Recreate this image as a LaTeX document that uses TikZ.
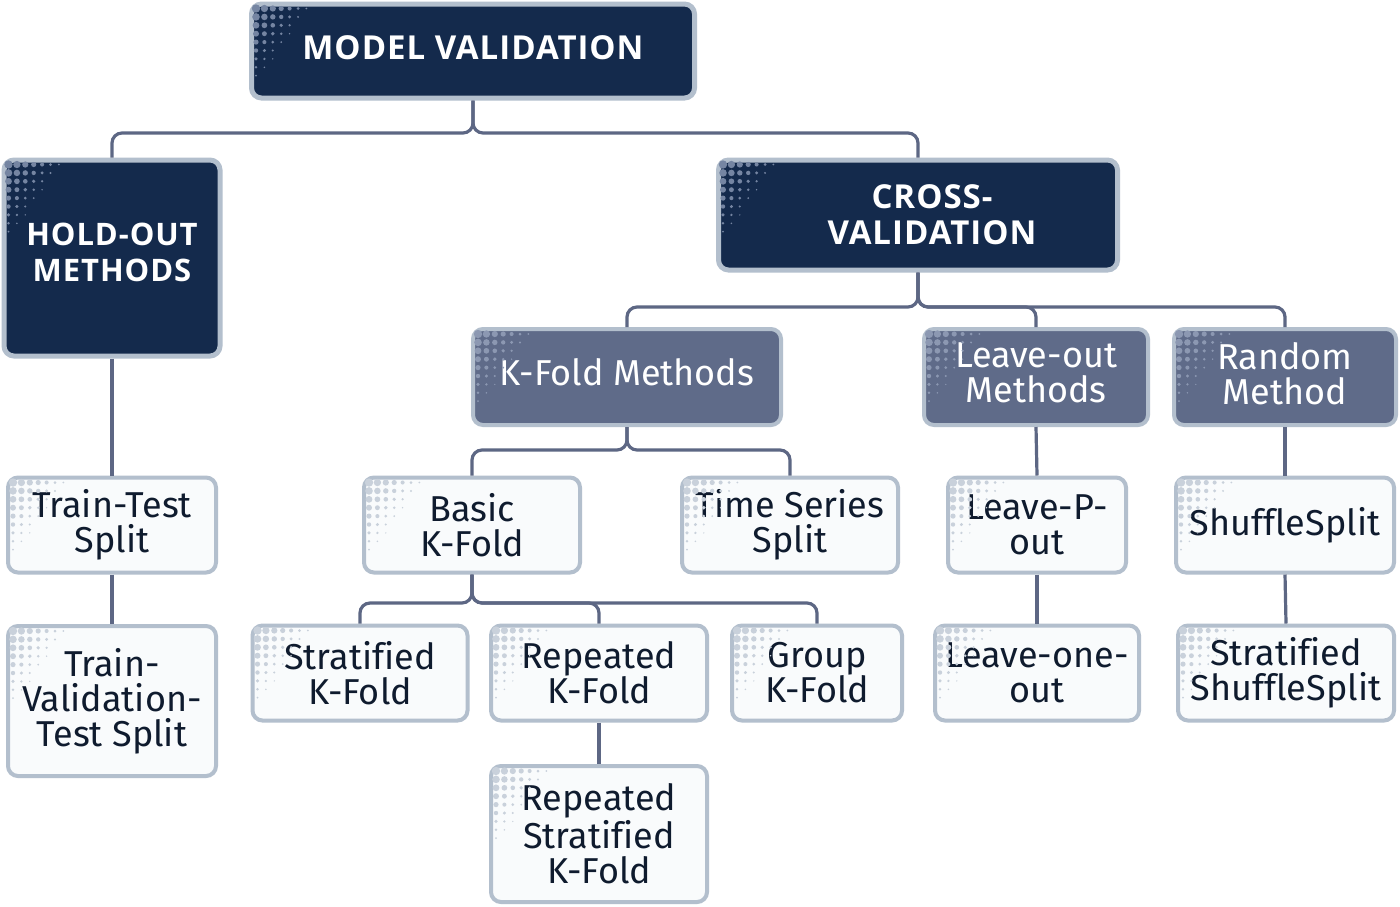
\documentclass[tikz,border=0pt]{standalone}
\usepackage{fontspec}
\setmainfont{Fira Sans}[Ligatures=NoCommon]
\newfontfamily\headfont{Open Sans}[LetterSpace=3, Ligatures=NoCommon]
\usetikzlibrary{calc}
\definecolor{navy}{HTML}{142A4C}
\definecolor{slate}{HTML}{5F6B89}
\definecolor{rim}{HTML}{B3BFCD}
\definecolor{paper}{HTML}{F9FBFC}
\definecolor{ink}{HTML}{0F1B2E}
\definecolor{wire}{HTML}{5D6784}
\definecolor{dotdark}{HTML}{7585A2}
\definecolor{dotmid}{HTML}{8C98B2}
\definecolor{dotlight}{HTML}{C9D1DB}
\newcommand{\halftone}[2]{%
  \foreach \i in {0,...,8}{\foreach \j in {0,...,9}{%
    \pgfmathsetmacro{\rad}{2.1-0.27*\i-0.2*\j}%
    \ifdim\rad pt>0.35pt
      \fill[#2] ([shift={(3.5pt+\i*4.2pt,-3.5pt-\j*4.2pt)}]#1.north west) circle[radius=\rad pt];
    \fi}}}
% raise text: adds an empty last line so the text block sits higher
\newcommand{\lift}[1]{\\[#1]\mbox{}}
\tikzset{
  base/.style={rounded corners=5pt, line width=2pt, draw=rim, inner sep=0pt, align=center,
    font=\fontsize{18}{17.5}\selectfont},
  darkbox/.style={base, fill=navy, text=white, line width=2.5pt, font=\headfont\bfseries\fontsize{16.5}{18}\selectfont},
  midbox/.style={base, fill=slate, text=white},
  lightbox/.style={base, fill=paper, text=ink},
  sz/.style 2 args={minimum width=#1*0.5pt-2pt, minimum height=#2*0.5pt-2pt},
  conn/.style={draw=wire, line width=1.6pt, rounded corners=5pt}
}
\begin{document}
\begin{tikzpicture}[x=0.5pt,y=-0.5pt]
\useasboundingbox[fill=white] (0,0) rectangle (1400,906);
\coordinate (b1) at (0,133);
\coordinate (b2) at (0,307);
\coordinate (b3) at (0,450);
\coordinate (b4) at (0,603);
% nodes
\node[darkbox, sz={447}{98}] (mv) at (473,51) {MODEL VALIDATION\lift{-15pt}};
\node[darkbox, sz={220}{200}, font=\headfont\bfseries\fontsize{15.5}{18}\selectfont] (ho) at (112,258) {HOLD-OUT\\METHODS\lift{-12pt}};
\node[darkbox, sz={403}{114}] (cv) at (918,215) {\hspace*{14pt}CROSS-\\\hspace*{14pt}VALIDATION};
\node[midbox, sz={312}{100}] (kf) at (627,377) {K-Fold Methods\lift{-12.5pt}};
\node[midbox, sz={228}{100}] (lo) at (1036,377) {Leave-out\\Methods\lift{-13.5pt}};
\node[midbox, sz={226}{100}] (rm) at (1285,377) {Random\\Method\lift{-13.5pt}};
\node[lightbox, sz={212}{99}] (tt) at (112,525) {Train-Test\\Split};
\node[lightbox, sz={220}{99}] (bk) at (472,525) {Basic\\K-Fold};
\node[lightbox, sz={220}{99}] (ts) at (790,525) {Time Series\\Split};
\node[lightbox, sz={182}{99}] (lp) at (1037,525) {Leave-P-\\out};
\node[lightbox, sz={222}{99}] (ss) at (1285,525) {ShuffleSplit};
\node[lightbox, sz={212}{154}] (tvt) at (112,701) {Train-\\Validation-\\Test Split};
\node[lightbox, sz={219}{99}] (sk) at (360,673) {Stratified\\K-Fold};
\node[lightbox, sz={220}{99}] (rk) at (599,673) {Repeated\\K-Fold};
\node[lightbox, sz={174}{99}] (gk) at (817,673) {Group\\K-Fold};
\node[lightbox, sz={208}{99}] (loo) at (1037,673) {Leave-one-\\out};
\node[lightbox, sz={220}{99}] (sss) at (1286,673) {Stratified\\ShuffleSplit};
\node[lightbox, sz={220}{140}] (rsk) at (599,834) {Repeated\\Stratified\\K-Fold};
% halftone decorations
\foreach \n in {mv,ho,cv}{\halftone{\n}{dotdark}}
\foreach \n in {kf,lo,rm}{\halftone{\n}{dotmid}}
\foreach \n in {tt,bk,ts,lp,ss,tvt,sk,rk,gk,loo,sss,rsk}{\halftone{\n}{dotlight}}
% connectors
\draw[conn] (mv.south) |- (ho.north |- b1) -- (ho.north);
\draw[conn] (mv.south) |- (cv.north |- b1) -- (cv.north);
\draw[conn] (cv.south) |- (kf.north |- b2) -- (kf.north);
\draw[conn] (cv.south) |- (lo.north |- b2) -- (lo.north);
\draw[conn] (cv.south) |- (rm.north |- b2) -- (rm.north);
\draw[conn] (kf.south) |- (bk.north |- b3) -- (bk.north);
\draw[conn] (kf.south) |- (ts.north |- b3) -- (ts.north);
\draw[conn] (bk.south) |- (sk.north |- b4) -- (sk.north);
\draw[conn] (bk.south) |- (rk.north |- b4) -- (rk.north);
\draw[conn] (bk.south) |- (gk.north |- b4) -- (gk.north);
\draw[conn] (ho.south) -- (tt.north);
\draw[conn] (tt.south) -- (tvt.north);
\draw[conn] (lo.south) -- (lp.north);
\draw[conn] (lp.south) -- (loo.north);
\draw[conn] (rm.south) -- (ss.north);
\draw[conn] (ss.south) -- (sss.north);
\draw[conn] (rk.south) -- (rsk.north);
\end{tikzpicture}
\end{document}
